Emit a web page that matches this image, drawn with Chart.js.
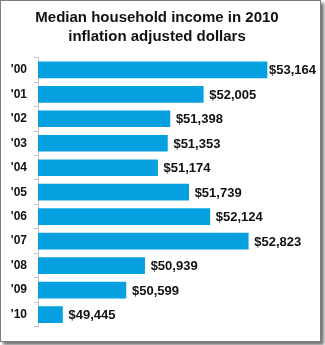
<!DOCTYPE html>
<html>
<head>
<meta charset="utf-8">
<script src="https://cdn.jsdelivr.net/npm/chart.js@4"></script>
<style>
  html, body { margin: 0; padding: 0; background: #fff; }
  #frame {
    position: absolute; left: 0; top: 0;
    width: 319px; height: 340px;
    border: 1px solid #7d7d7d;
    box-shadow: 3px 3px 3px rgba(0,0,0,0.55);
    background: #fff;
  }
  canvas { display: block; }
</style>
</head>
<body>
<div id="frame"><canvas id="c" width="319" height="340"></canvas></div>
<script>
const titleLines = ['Median household income in 2010', 'inflation adjusted dollars'];
const years = ["'00", "'01", "'02", "'03", "'04", "'05", "'06", "'07", "'08", "'09", "'10"];
const income = [53164, 52005, 51398, 51353, 51174, 51739, 52124, 52823, 50939, 50599, 49445];
const axisMin = 49000;
const axisMax = 54000;

const fmt = v => '$' + v.toLocaleString('en-US');

const valueLabels = {
  id: 'valueLabels',
  afterDatasetsDraw(chart) {
    const ctx = chart.ctx;
    const meta = chart.getDatasetMeta(0);
    ctx.save();
    ctx.font = 'bold 13px "Liberation Sans", Arial, sans-serif';
    ctx.fillStyle = '#111';
    ctx.textBaseline = 'middle';
    ctx.textAlign = 'left';
    meta.data.forEach((bar, i) => {
      const txt = fmt(income[i]);
      const w = ctx.measureText(txt).width;
      let x = bar.x + 6;
      const maxX = chart.width - 4 - w;
      if (x > maxX) x = maxX;
      ctx.fillText(txt, x, bar.y + 1);
    });
    ctx.restore();
  }
};

new Chart(document.getElementById('c'), {
  type: 'bar',
  data: {
    labels: years,
    datasets: [{
      data: income,
      backgroundColor: '#06A0E0',
      borderWidth: 0,
      barThickness: 16
    }]
  },
  options: {
    indexAxis: 'y',
    responsive: false,
    animation: false,
    devicePixelRatio: 1,
    layout: { padding: { top: 0, right: 7, bottom: 8, left: 0 } },
    plugins: {
      legend: { display: false },
      tooltip: { enabled: false },
      title: {
        display: true,
        text: titleLines,
        color: '#111',
        font: { family: '"Liberation Sans", Arial, sans-serif', size: 15, weight: 'bold', lineHeight: 1.27 },
        padding: { top: 7, bottom: 11.5 }
      }
    },
    scales: {
      x: {
        display: false,
        min: axisMin,
        max: axisMax
      },
      y: {
        afterFit(scale) { scale.width = 37; },
        border: { display: true, color: '#c4c4c4', width: 1 },
        grid: {
          offset: true,
          drawOnChartArea: false,
          drawTicks: true,
          tickLength: 4,
          color: '#c4c4c4'
        },
        ticks: {
          color: '#111',
          padding: 7,
          font: { family: '"Liberation Sans", Arial, sans-serif', size: 12, weight: 'bold' }
        }
      }
    }
  },
  plugins: [valueLabels]
});
</script>
</body>
</html>
